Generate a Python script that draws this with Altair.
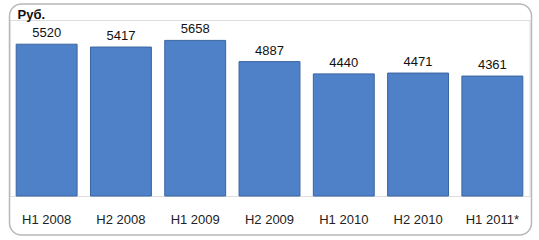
import altair as alt
import pandas as pd

periods = ["H1 2008", "H2 2008", "H1 2009", "H2 2009", "H1 2010", "H2 2010", "H1 2011*"]
values = [5520, 5417, 5658, 4887, 4440, 4471, 4361]

df = pd.DataFrame({"period": periods, "value": values})

x = alt.X("period:N", sort=periods,
          scale=alt.Scale(paddingInner=0.18, paddingOuter=0.09),
          axis=alt.Axis(title=None, labelAngle=0, domain=False, ticks=False,
                        labelPadding=17, labelFontSize=13, labelColor="#222222",
                        labelFont="Liberation Sans", zindex=1))
y = alt.Y("value:Q", scale=alt.Scale(domain=[0, 6400], nice=False),
          axis=None)

frame = alt.Chart(pd.DataFrame({"f": [0]})).mark_rect(
    fillOpacity=0, stroke="#b8b8b8", strokeWidth=1.5, cornerRadius=12
).encode(x=alt.value(0), x2=alt.value(522), y=alt.value(-16), y2=alt.value(215))

bars = alt.Chart(df).mark_bar(color="#4f81c9", stroke="#3a65a0", strokeWidth=1).encode(x=x, y=y)

labels = alt.Chart(df).mark_text(dy=-11, fontSize=13, color="#111111",
                                 font="Liberation Sans").encode(
    x=alt.X("period:N", sort=periods), y="value:Q", text="value:Q")

unit = alt.Chart(pd.DataFrame({"t": ["Руб."]})).mark_text(
    align="left", fontSize=13, fontWeight="bold", color="#111111", font="Liberation Sans"
).encode(x=alt.value(8), y=alt.value(-5), text="t:N")

chart = alt.layer(frame, bars, labels, unit).properties(
    width=520, height=176,
    autosize=alt.AutoSizeParams(type="none"),
    padding={"left": 9.5, "top": 20, "right": 9.5, "bottom": 44},
).configure_view(stroke=None).configure(background="white")

chart.save("out.html", embed_options={"renderer": "svg", "actions": False})
